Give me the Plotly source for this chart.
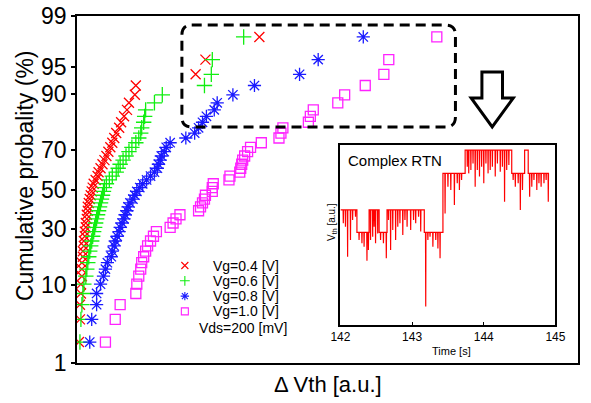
import plotly.graph_objects as go
from statistics import NormalDist

# ---------------- data ----------------
# Delta Vth [a.u.] sorted, 48 devices per gate bias
dvth_vg04 = [0.02,0.03,0.03,0.04,0.04,0.05,0.05,0.05,0.06,0.06,0.07,0.07,0.08,0.08,0.09,0.09,
             0.10,0.10,0.11,0.11,0.12,0.13,0.14,0.15,0.16,0.17,0.19,0.21,0.22,0.24,0.26,0.28,
             0.30,0.32,0.34,0.36,0.38,0.40,0.43,0.45,0.48,0.51,0.53,0.59,0.60,1.21,1.31,1.86]
dvth_vg06 = [0.03,0.04,0.05,0.06,0.07,0.09,0.10,0.11,0.12,0.13,0.14,0.15,0.16,0.17,0.18,0.19,
             0.20,0.21,0.22,0.23,0.24,0.25,0.26,0.27,0.28,0.30,0.33,0.36,0.40,0.42,0.44,0.47,
             0.50,0.53,0.56,0.60,0.63,0.65,0.66,0.68,0.69,0.70,0.79,0.87,1.30,1.37,1.38,1.70]
dvth_vg08 = [0.13,0.15,0.20,0.20,0.24,0.27,0.29,0.31,0.35,0.36,0.38,0.39,0.41,0.43,0.44,0.46,
             0.48,0.49,0.51,0.52,0.54,0.57,0.59,0.61,0.64,0.67,0.71,0.75,0.79,0.82,0.83,0.85,
             0.86,0.89,0.91,0.95,1.11,1.20,1.24,1.28,1.32,1.40,1.43,1.59,1.81,2.27,2.46,2.92]
dvth_vg10 = [0.29,0.39,0.44,0.60,0.61,0.63,0.65,0.66,0.68,0.70,0.72,0.75,0.78,0.81,0.95,0.98,
             1.01,1.05,1.24,1.26,1.28,1.30,1.31,1.38,1.38,1.39,1.55,1.56,1.66,1.67,1.68,1.69,
             1.71,1.74,1.77,1.88,2.06,2.08,2.10,2.36,2.38,2.41,2.66,2.73,2.94,3.13,3.18,3.67]

series_names = ["Vg=0.4 [V]", "Vg=0.6 [V]", "Vg=0.8 [V]", "Vg=1.0 [V]"]
prob_ticks = [1, 10, 30, 50, 70, 90, 95, 99]
prob_tick_labels = ["1", "10", "30", "50", "70", "90", "95", "99"]

# Complex RTN inset: level segments and spikes
rtn_seg_start = [142.00, 142.23, 142.40, 142.54, 142.65, 143.17, 143.43, 143.74, 144.39, 144.57, 144.62]
rtn_seg_end   = [142.23, 142.40, 142.54, 142.65, 143.17, 143.43, 143.74, 144.39, 144.57, 144.62, 144.91]
rtn_seg_level = [0.638, 0.514, 0.638, 0.514, 0.638, 0.514, 0.841, 0.970, 0.841, 0.970, 0.841]
rtn_spike_t = [142.04,142.07,142.10,142.14,142.17,142.21,142.26,142.30,142.33,142.37,142.39,
               142.42,142.45,142.47,142.49,142.52,142.56,142.60,142.64,142.67,142.70,142.73,
               142.77,142.80,142.83,142.87,142.90,142.93,142.98,143.02,143.05,143.09,143.12,
               143.19,143.22,143.25,143.29,143.33,143.36,143.39,143.46,143.50,143.54,143.59,
               143.63,143.66,143.69,143.77,143.79,143.82,143.85,143.88,143.91,143.94,143.97,
               144.00,144.03,144.06,144.09,144.12,144.16,144.19,144.23,144.26,144.29,144.32,
               144.35,144.41,144.44,144.48,144.51,144.54,144.64,144.67,144.70,144.74,144.77,
               144.80,144.84,144.87,144.90]
rtn_spike_v = [0.564,0.545,0.379,0.471,0.582,0.601,0.471,0.453,0.434,0.357,0.416,
               0.471,0.490,0.545,0.453,0.508,0.471,0.453,0.370,0.582,0.416,0.527,
               0.471,0.545,0.564,0.499,0.582,0.545,0.527,0.582,0.564,0.601,0.518,
               0.102,0.471,0.490,0.434,0.471,0.425,0.370,0.619,0.767,0.749,0.665,
               0.786,0.749,0.804,0.878,0.841,0.860,0.896,0.767,0.860,0.823,0.878,
               0.786,0.896,0.841,0.860,0.878,0.823,0.896,0.850,0.878,0.684,0.860,
               0.887,0.804,0.767,0.786,0.638,0.749,0.712,0.767,0.804,0.749,0.786,
               0.767,0.786,0.804,0.684]

# ---------------- figure ----------------
W, H = 591, 403
ML, MR, MT, MB = 77, 3, 16, 40
PW, PH = W - ML - MR, H - MT - MB
FONT = "Liberation Sans, Arial, sans-serif"

def px(x, y):
    """pixel -> paper coordinates (relative to the main plot area)"""
    return (x - ML) / PW, (H - MB - y) / PH

nd = NormalDist()

def quantile(pct):
    return nd.inv_cdf(pct / 100.0)

colors = ["#ff0000", "#11ee11", "#1a1aff", "#ff22ff"]
symbols = ["x-thin", "cross-thin", "asterisk", "square-open"]
sizes = [10, 11, 11, 10]

fig = go.Figure()
for vals, name, c, s, sz in zip([dvth_vg04, dvth_vg06, dvth_vg08, dvth_vg10],
                                series_names, colors, symbols, sizes):
    n = len(vals)
    zq = [nd.inv_cdf(i / (n + 1)) for i in range(1, n + 1)]
    fig.add_trace(go.Scatter(x=vals, y=zq, mode="markers", name=name, showlegend=False,
                             marker=dict(symbol=s, size=sz, color=c,
                                         line=dict(color=c, width=1.3)),
                             xaxis="x", yaxis="y"))

# RTN inset trace
rt, rv = [], []
for s, e, lv in zip(rtn_seg_start, rtn_seg_end, rtn_seg_level):
    rt.append(s); rv.append(lv)
    for t, v in zip(rtn_spike_t, rtn_spike_v):
        if s < t < e:
            rt += [t - 0.003, t, t + 0.003]
            rv += [lv, v, lv]
    rt.append(e); rv.append(lv)
fig.add_trace(go.Scatter(x=rt, y=rv, mode="lines", line=dict(color="#ff0000", width=1.2),
                         showlegend=False, xaxis="x2", yaxis="y2"))

# manual legend markers (overlay axes in plot-area fraction)
leg_rows = [265.5, 280.8, 296.1, 311.4]
for name, c, s, y in zip(series_names, colors, symbols, leg_rows):
    lx, ly = px(187, y)
    fig.add_trace(go.Scatter(x=[lx], y=[ly], mode="markers", showlegend=False,
                             marker=dict(symbol=s, size=7, color=c, line=dict(color=c, width=1.1)),
                             xaxis="x3", yaxis="y3"))

annotations = []
for name, y in zip(series_names, leg_rows):
    ax_, ay_ = px(214, y)
    annotations.append(dict(x=ax_, y=ay_, xref="paper", yref="paper", text=name,
                            showarrow=False, xanchor="left", yanchor="middle",
                            font=dict(size=14, color="black", family=FONT)))
vx, vy = px(199, 328)
annotations.append(dict(x=vx, y=vy, xref="paper", yref="paper", text="Vds=200 [mV]",
                        showarrow=False, xanchor="left", yanchor="middle",
                        font=dict(size=14, color="black", family=FONT)))
# axis titles
tx, ty = px(24, 176)
annotations.append(dict(x=tx, y=ty, xref="paper", yref="paper", text="Cumulative probality (%)",
                        textangle=-90, showarrow=False, xanchor="center", yanchor="middle",
                        font=dict(size=23, color="black", family=FONT)))
tx, ty = px(333, 384)
annotations.append(dict(x=tx, y=ty, xref="paper", yref="paper", text="Δ Vth [a.u.]",
                        showarrow=False, xanchor="center", yanchor="middle",
                        font=dict(size=22, color="black", family=FONT)))
# inset texts
annotations.append(dict(x=0.025, y=0.915, xref="x2 domain", yref="y2 domain", text="Complex RTN",
                        showarrow=False, xanchor="left", yanchor="middle",
                        font=dict(size=15, color="black", family=FONT)))
tx, ty = px(337, 222)
annotations.append(dict(x=tx, y=ty, xref="paper", yref="paper", text="V<sub>th</sub> [a.u.]",
                        textangle=-90, showarrow=False, xanchor="center", yanchor="middle",
                        font=dict(size=10, color="black", family=FONT)))
tx, ty = px(459, 351)
annotations.append(dict(x=tx, y=ty, xref="paper", yref="paper", text="Time [s]",
                        showarrow=False, xanchor="center", yanchor="middle",
                        font=dict(size=11, color="black", family=FONT)))

# dashed rounded box
bx0, by0 = px(184, 127)
bx1, by1 = px(463, 25)
rx, ry = 10 / PW, 10 / PH
box_path = (f"M {bx0+rx},{by1} L {bx1-rx},{by1} Q {bx1},{by1} {bx1},{by1-ry} "
            f"L {bx1},{by0+ry} Q {bx1},{by0} {bx1-rx},{by0} L {bx0+rx},{by0} "
            f"Q {bx0},{by0} {bx0},{by0+ry} L {bx0},{by1-ry} Q {bx0},{by1} {bx0+rx},{by1} Z")
# hollow down arrow
arrow_pts = [px(490, 72), px(511, 72), px(511, 98), px(522, 98), px(500.5, 127), px(479, 98), px(490, 98)]
arrow_path = "M " + " L ".join(f"{a},{b}" for a, b in arrow_pts) + " Z"
shapes = [
    dict(type="path", xref="paper", yref="paper", path=box_path, layer="above",
         line=dict(color="black", width=3, dash="10px,6px")),
    dict(type="path", xref="paper", yref="paper", path=arrow_path, layer="above",
         fillcolor="white", line=dict(color="black", width=3)),
]

ix0, iy0 = px(345.7, 325)
ix1, iy1 = px(565, 144.7)

fig.update_layout(
    width=W, height=H,
    margin=dict(l=ML, r=MR, t=MT, b=MB, pad=0),
    paper_bgcolor="white", plot_bgcolor="white",
    font=dict(family=FONT, color="black"),
    showlegend=False,
    xaxis=dict(domain=[0, 1], range=[0, 5.11], showticklabels=False, ticks="",
               showline=True, mirror=True, linecolor="black", linewidth=1.5,
               showgrid=False, zeroline=False, anchor="y"),
    yaxis=dict(domain=[0, 1], range=[quantile(1), quantile(99)],
               tickvals=[quantile(p) for p in prob_ticks], ticktext=prob_tick_labels,
               ticks="outside", ticklen=4, tickwidth=1.5, tickcolor="black",
               tickfont=dict(size=23, color="black", family=FONT),
               showline=True, mirror=True, linecolor="black", linewidth=1.5,
               showgrid=False, zeroline=False, anchor="x"),
    xaxis2=dict(domain=[ix0, ix1], range=[142, 145], tickvals=[142, 143, 144, 145],
                ticks="inside", ticklen=3, tickcolor="black",
                tickfont=dict(size=12, color="black", family=FONT),
                showline=True, mirror=True, linecolor="black", linewidth=1.5,
                showgrid=False, zeroline=False, anchor="y2"),
    yaxis2=dict(domain=[iy0, iy1], range=[0, 1], showticklabels=False, ticks="",
                showline=True, mirror=True, linecolor="black", linewidth=1.5,
                showgrid=False, zeroline=False, anchor="x2"),
    xaxis3=dict(overlaying="x", range=[0, 1], visible=False, anchor="y3"),
    yaxis3=dict(overlaying="y", range=[0, 1], visible=False, anchor="x3"),
    annotations=annotations,
    shapes=shapes,
)

fig.write_html("out.html")
